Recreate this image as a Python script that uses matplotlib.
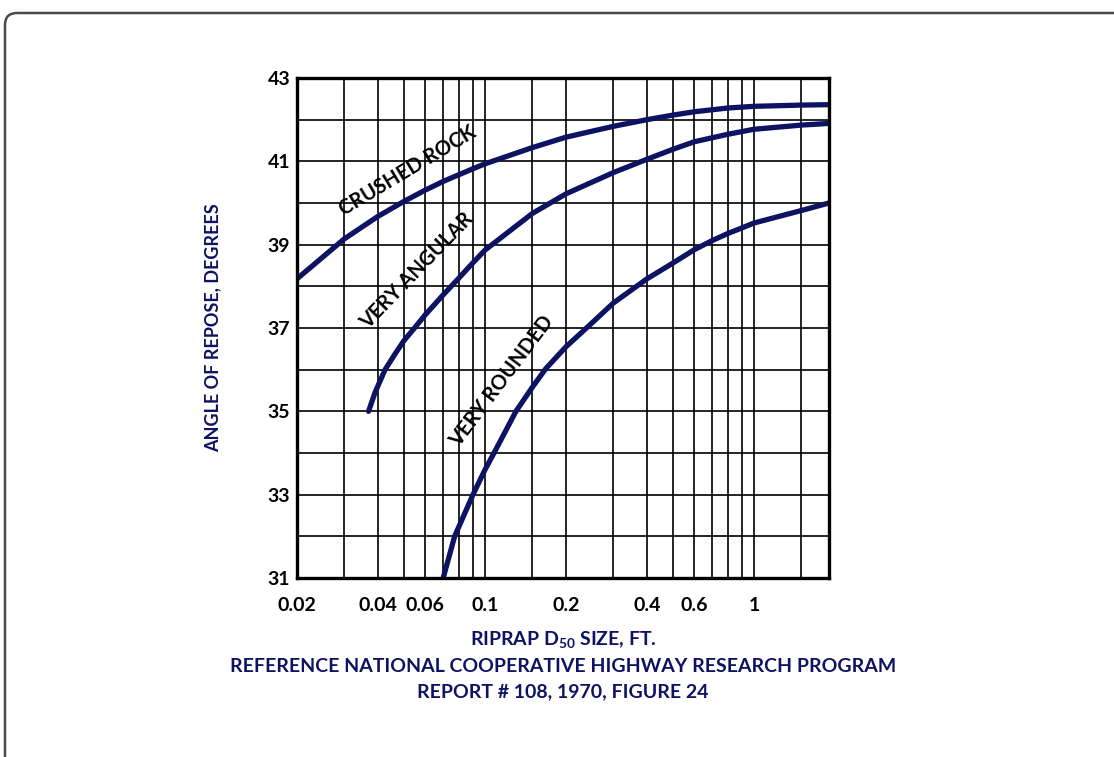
import matplotlib
matplotlib.use("Agg")
import matplotlib.pyplot as plt
from matplotlib.patches import FancyBboxPatch
from matplotlib.ticker import FixedLocator, NullFormatter, NullLocator

plt.rcParams['font.family'] = ['Lato', 'DejaVu Sans']
plt.rcParams['mathtext.fontset'] = 'custom'
plt.rcParams['mathtext.rm'] = 'Lato:bold'

NAVY = '#0d1263'

# Riprap D50 size (ft) vs angle of repose (degrees)
crushed_x = [0.02, 0.03, 0.04, 0.05, 0.06, 0.07, 0.08, 0.09, 0.1, 0.15, 0.2, 0.3, 0.4,
             0.5, 0.6, 0.8, 1.0, 1.5, 1.9]
crushed_y = [38.18, 39.14, 39.68, 40.04, 40.31, 40.52, 40.68, 40.82, 40.94, 41.33, 41.58,
             41.84, 42.0, 42.11, 42.19, 42.28, 42.32, 42.35, 42.36]

angular_x = [0.0369, 0.039, 0.0425, 0.046, 0.05, 0.0547, 0.06, 0.07, 0.08, 0.09, 0.1,
             0.15, 0.2, 0.3, 0.4, 0.5, 0.6, 0.8, 1.0, 1.5, 1.9]
angular_y = [35.0, 35.45, 36.0, 36.35, 36.7, 37.0, 37.32, 37.8, 38.2, 38.56, 38.87,
             39.75, 40.22, 40.73, 41.05, 41.29, 41.47, 41.65, 41.77, 41.87, 41.91]

rounded_x = [0.0699, 0.0771, 0.0902, 0.1, 0.108, 0.1303, 0.15, 0.168, 0.2, 0.243, 0.3,
             0.4, 0.5, 0.6, 0.7, 0.8, 0.9, 1.0, 1.5, 1.9]
rounded_y = [31.0, 32.0, 33.0, 33.6, 34.0, 35.0, 35.58, 36.02, 36.55, 37.05, 37.6,
             38.18, 38.56, 38.88, 39.1, 39.27, 39.4, 39.52, 39.82, 40.0]

x_grid = [0.03, 0.04, 0.05, 0.06, 0.07, 0.08, 0.09, 0.1, 0.15, 0.2, 0.3, 0.4, 0.5,
          0.6, 0.7, 0.8, 0.9, 1.0, 1.5]
x_ticks = [0.02, 0.04, 0.06, 0.1, 0.2, 0.4, 0.6, 1.0]
x_ticklabels = ['0.02', '0.04', '0.06', '0.1', '0.2', '0.4', '0.6', '1']
y_grid = list(range(31, 44))
y_ticks = [31, 33, 35, 37, 39, 41, 43]

fig = plt.figure(figsize=(11.14, 7.57), dpi=100)
fig.patch.set_facecolor('white')

# rounded outer frame (runs off the right and bottom edges)
frame = FancyBboxPatch((0.05, -1.0), 12.0, 8.44,
                       boxstyle='round,pad=0,rounding_size=0.12',
                       transform=fig.dpi_scale_trans, fill=False,
                       edgecolor='#4a4a4a', linewidth=1.8)
fig.add_artist(frame)

ax = fig.add_axes([297 / 1114, 1 - 578 / 757, (829 - 297) / 1114, (578 - 78) / 757])
ax.set_xscale('log')
ax.set_xlim(0.02, 1.9)
ax.set_ylim(31, 43)

for xv in x_grid:
    ax.axvline(xv, color='black', linewidth=1.2, zorder=1)
for yv in y_grid:
    ax.axhline(yv, color='black', linewidth=1.2, zorder=1)

for xs, ys in [(crushed_x, crushed_y), (angular_x, angular_y), (rounded_x, rounded_y)]:
    ax.plot(xs, ys, color=NAVY, linewidth=3.8, solid_capstyle='round',
            solid_joinstyle='round', zorder=3)

ax.xaxis.set_major_locator(FixedLocator(x_ticks))
ax.xaxis.set_minor_locator(NullLocator())
ax.xaxis.set_minor_formatter(NullFormatter())
ax.set_xticklabels(x_ticklabels)
ax.set_yticks(y_ticks)
ax.tick_params(axis='both', length=0, labelsize=14)
ax.tick_params(axis='x', pad=14)
ax.tick_params(axis='y', pad=5)
for lbl in ax.get_xticklabels() + ax.get_yticklabels():
    lbl.set_fontweight('bold')

for sp in ax.spines.values():
    sp.set_linewidth(2.4)
    sp.set_color('black')
    sp.set_zorder(4)

fig.text(213 / 1114, 1 - 328 / 757, 'ANGLE OF REPOSE, DEGREES', color=NAVY,
         fontsize=13, fontweight='bold', rotation=90, ha='center', va='center')

label_kw = dict(fontsize=14.5, fontweight='bold', color='black', ha='center',
                va='center', rotation_mode='anchor', zorder=5)
ax.text(0.0515, 40.77, 'CRUSHED ROCK', rotation=31, **label_kw)
ax.text(0.0556, 38.37, 'VERY ANGULAR', rotation=46, **label_kw)
ax.text(0.116, 35.73, 'VERY ROUNDED', rotation=53, **label_kw)

cx = (297 + 829) / 2 / 1114
fig.text(cx, 1 - 640 / 757, r'RIPRAP D$_{\mathregular{50}}$ SIZE, FT.', color=NAVY,
         fontsize=14, fontweight='bold', ha='center', va='center')
fig.text(cx, 1 - 666 / 757, 'REFERENCE NATIONAL COOPERATIVE HIGHWAY RESEARCH PROGRAM',
         color=NAVY, fontsize=14, fontweight='bold', ha='center', va='center')
fig.text(cx, 1 - 692 / 757, 'REPORT # 108, 1970, FIGURE 24', color=NAVY,
         fontsize=14, fontweight='bold', ha='center', va='center')

fig.savefig('out.png', dpi=100)
